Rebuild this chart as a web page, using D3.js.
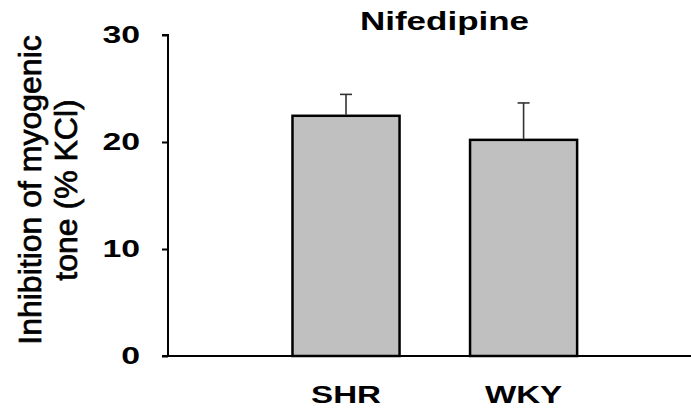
<!DOCTYPE html>
<html>
<head>
<meta charset="utf-8">
<script src="https://cdn.jsdelivr.net/npm/d3@7"></script>
<style>
  html, body { margin: 0; padding: 0; background: #fff; }
  svg { display: block; }
</style>
</head>
<body>
<svg id="chart" width="691" height="409"></svg>
<script>
const categories = ["SHR", "WKY"];
const means = [22.45, 20.2];
const errors = [2.0, 3.45];
const yTicks = [0, 10, 20, 30];
const title = "Nifedipine";
const yLabelLines = ["Inhibition of myogenic", "tone (% KCl)"];

const svg = d3.select("#chart");
const FONT = "'Liberation Sans', Arial, sans-serif";
const SX = 1.38;

const y = d3.scaleLinear().domain([0, 30]).range([356, 35]);
const x = d3.scaleBand().domain(categories).range([168, 701.6])
  .paddingInner(0.397).paddingOuter(0.701);

// x axis baseline
svg.append("line")
  .attr("x1", 162).attr("x2", 691)
  .attr("y1", y(0)).attr("y2", y(0))
  .attr("stroke", "#000").attr("stroke-width", 2);

// bars
svg.selectAll("rect.bar").data(categories).enter().append("rect")
  .attr("class", "bar")
  .attr("x", d => x(d))
  .attr("y", (d, i) => y(means[i]))
  .attr("width", x.bandwidth())
  .attr("height", (d, i) => y(0) - y(means[i]))
  .attr("fill", "#c0c0c0")
  .attr("stroke", "#000")
  .attr("stroke-width", 2.5);

// error bars (upper only)
const eb = svg.selectAll("g.err").data(categories).enter().append("g").attr("class", "err");
eb.append("line")
  .attr("x1", d => x(d) + x.bandwidth() / 2)
  .attr("x2", d => x(d) + x.bandwidth() / 2)
  .attr("y1", (d, i) => y(means[i]) - 1)
  .attr("y2", (d, i) => y(means[i] + errors[i]))
  .attr("stroke", "#333").attr("stroke-width", 1.6);
eb.append("line")
  .attr("x1", d => x(d) + x.bandwidth() / 2 - 6)
  .attr("x2", d => x(d) + x.bandwidth() / 2 + 6)
  .attr("y1", (d, i) => y(means[i] + errors[i]))
  .attr("y2", (d, i) => y(means[i] + errors[i]))
  .attr("stroke", "#333").attr("stroke-width", 1.6);

// y axis
const yAxis = svg.append("g")
  .attr("transform", "translate(168,0)")
  .call(d3.axisLeft(y).tickValues(yTicks).tickSize(6).tickSizeOuter(6));
yAxis.select(".domain").attr("stroke", "#000").attr("stroke-width", 2)
  .attr("d", `M-6,${y(30)}H0V${y(0)}`);
yAxis.selectAll(".tick line").attr("stroke", "#000").attr("stroke-width", 2);
yAxis.selectAll(".tick text")
  .attr("x", 0)
  .attr("dy", "0.3em")
  .attr("transform", `translate(-28,0) scale(${SX},1)`)
  .attr("text-anchor", "end")
  .style("font-family", FONT)
  .style("font-weight", "bold")
  .style("font-size", "24.5px")
  .attr("fill", "#000");

// x axis labels
const xAxis = svg.append("g")
  .attr("transform", `translate(0,${y(0)})`)
  .call(d3.axisBottom(x).tickSize(0));
xAxis.select(".domain").remove();
xAxis.selectAll(".tick text")
  .attr("y", 0)
  .attr("dy", 0)
  .attr("transform", `translate(0,47) scale(${SX},1)`)
  .attr("text-anchor", "middle")
  .style("font-family", FONT)
  .style("font-weight", "bold")
  .style("font-size", "24px")
  .attr("fill", "#000");

// title
svg.append("text")
  .attr("transform", `translate(444.5,30) scale(1.4,1)`)
  .attr("text-anchor", "middle")
  .style("font-family", FONT)
  .style("font-weight", "bold")
  .style("font-size", "25px")
  .text(title);

// y label
const yl = svg.append("text")
  .attr("transform", "translate(0,190) rotate(-90)")
  .attr("text-anchor", "middle")
  .style("font-family", FONT)
  .style("font-size", "32px")
  .attr("fill", "#000")
  .attr("stroke", "#000")
  .attr("stroke-width", 0.7);
yl.selectAll("tspan").data(yLabelLines).enter().append("tspan")
  .attr("x", 0)
  .attr("y", (d, i) => 41 + i * 36)
  .text(d => d);
</script>
</body>
</html>
